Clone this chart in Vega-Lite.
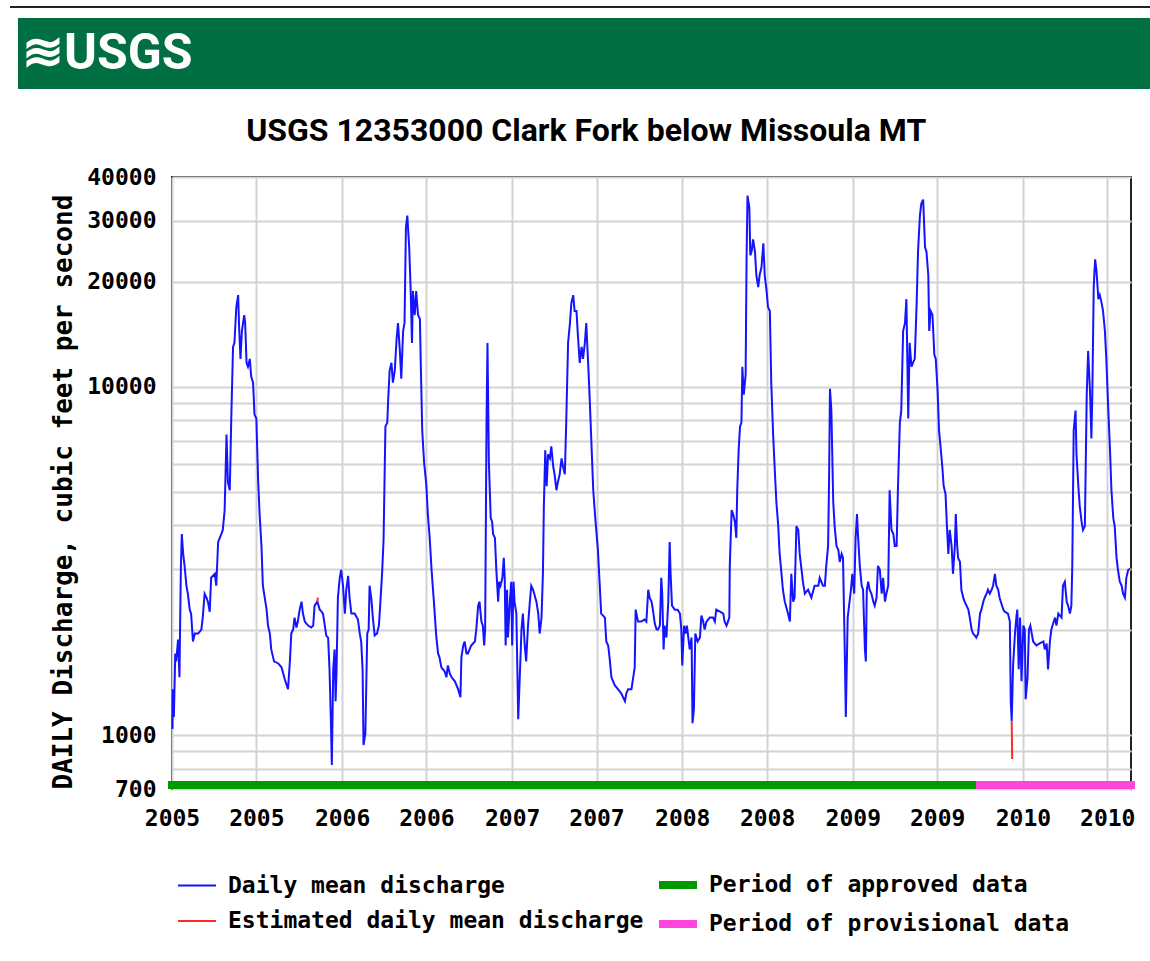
{
  "$schema": "https://vega.github.io/schema/vega-lite/v6.json",
  "background": "white",
  "padding": {"left": 9, "top": 6, "right": 0, "bottom": 0},
  "spacing": 25,
  "config": {"view": {"stroke": null}},
  "datasets": {
    "flow": [
      {"date": "2005-01-02", "discharge": 1040, "series": "Daily mean discharge"},
      {"date": "2005-01-03", "discharge": 1354, "series": "Daily mean discharge"},
      {"date": "2005-01-05", "discharge": 1126, "series": "Daily mean discharge"},
      {"date": "2005-01-08", "discharge": 1715, "series": "Daily mean discharge"},
      {"date": "2005-01-10", "discharge": 1627, "series": "Daily mean discharge"},
      {"date": "2005-01-14", "discharge": 1880, "series": "Daily mean discharge"},
      {"date": "2005-01-17", "discharge": 1465, "series": "Daily mean discharge"},
      {"date": "2005-01-20", "discharge": 2980, "series": "Daily mean discharge"},
      {"date": "2005-01-22", "discharge": 3778, "series": "Daily mean discharge"},
      {"date": "2005-01-25", "discharge": 3311, "series": "Daily mean discharge"},
      {"date": "2005-01-28", "discharge": 3060, "series": "Daily mean discharge"},
      {"date": "2005-02-01", "discharge": 2683, "series": "Daily mean discharge"},
      {"date": "2005-02-04", "discharge": 2545, "series": "Daily mean discharge"},
      {"date": "2005-02-08", "discharge": 2291, "series": "Daily mean discharge"},
      {"date": "2005-02-11", "discharge": 2232, "series": "Daily mean discharge"},
      {"date": "2005-02-15", "discharge": 1856, "series": "Daily mean discharge"},
      {"date": "2005-02-19", "discharge": 1956, "series": "Daily mean discharge"},
      {"date": "2005-02-26", "discharge": 1956, "series": "Daily mean discharge"},
      {"date": "2005-03-05", "discharge": 2009, "series": "Daily mean discharge"},
      {"date": "2005-03-08", "discharge": 2174, "series": "Daily mean discharge"},
      {"date": "2005-03-12", "discharge": 2545, "series": "Daily mean discharge"},
      {"date": "2005-03-16", "discharge": 2479, "series": "Daily mean discharge"},
      {"date": "2005-03-19", "discharge": 2415, "series": "Daily mean discharge"},
      {"date": "2005-03-23", "discharge": 2260, "series": "Daily mean discharge"},
      {"date": "2005-03-26", "discharge": 2828, "series": "Daily mean discharge"},
      {"date": "2005-04-03", "discharge": 2903, "series": "Daily mean discharge"},
      {"date": "2005-04-06", "discharge": 2683, "series": "Daily mean discharge"},
      {"date": "2005-04-10", "discharge": 3584, "series": "Daily mean discharge"},
      {"date": "2005-04-17", "discharge": 3778, "series": "Daily mean discharge"},
      {"date": "2005-04-20", "discharge": 3880, "series": "Daily mean discharge"},
      {"date": "2005-04-24", "discharge": 4425, "series": "Daily mean discharge"},
      {"date": "2005-04-28", "discharge": 7290, "series": "Daily mean discharge"},
      {"date": "2005-05-01", "discharge": 5320, "series": "Daily mean discharge"},
      {"date": "2005-05-05", "discharge": 5045, "series": "Daily mean discharge"},
      {"date": "2005-05-08", "discharge": 7890, "series": "Daily mean discharge"},
      {"date": "2005-05-12", "discharge": 13010, "series": "Daily mean discharge"},
      {"date": "2005-05-15", "discharge": 13360, "series": "Daily mean discharge"},
      {"date": "2005-05-19", "discharge": 16930, "series": "Daily mean discharge"},
      {"date": "2005-05-23", "discharge": 18320, "series": "Daily mean discharge"},
      {"date": "2005-05-25", "discharge": 14840, "series": "Daily mean discharge"},
      {"date": "2005-05-28", "discharge": 12020, "series": "Daily mean discharge"},
      {"date": "2005-05-31", "discharge": 14450, "series": "Daily mean discharge"},
      {"date": "2005-06-05", "discharge": 16060, "series": "Daily mean discharge"},
      {"date": "2005-06-07", "discharge": 15240, "series": "Daily mean discharge"},
      {"date": "2005-06-10", "discharge": 11710, "series": "Daily mean discharge"},
      {"date": "2005-06-13", "discharge": 11410, "series": "Daily mean discharge"},
      {"date": "2005-06-17", "discharge": 12020, "series": "Daily mean discharge"},
      {"date": "2005-06-20", "discharge": 10680, "series": "Daily mean discharge"},
      {"date": "2005-06-24", "discharge": 10270, "series": "Daily mean discharge"},
      {"date": "2005-06-27", "discharge": 8320, "series": "Daily mean discharge"},
      {"date": "2005-07-01", "discharge": 8100, "series": "Daily mean discharge"},
      {"date": "2005-07-05", "discharge": 5320, "series": "Daily mean discharge"},
      {"date": "2005-07-08", "discharge": 4310, "series": "Daily mean discharge"},
      {"date": "2005-07-12", "discharge": 3491, "series": "Daily mean discharge"},
      {"date": "2005-07-15", "discharge": 2683, "series": "Daily mean discharge"},
      {"date": "2005-07-23", "discharge": 2291, "series": "Daily mean discharge"},
      {"date": "2005-07-26", "discharge": 2062, "series": "Daily mean discharge"},
      {"date": "2005-07-30", "discharge": 1956, "series": "Daily mean discharge"},
      {"date": "2005-08-02", "discharge": 1761, "series": "Daily mean discharge"},
      {"date": "2005-08-08", "discharge": 1627, "series": "Daily mean discharge"},
      {"date": "2005-08-17", "discharge": 1605, "series": "Daily mean discharge"},
      {"date": "2005-08-24", "discharge": 1565, "series": "Daily mean discharge"},
      {"date": "2005-08-31", "discharge": 1446, "series": "Daily mean discharge"},
      {"date": "2005-09-07", "discharge": 1354, "series": "Daily mean discharge"},
      {"date": "2005-09-11", "discharge": 1627, "series": "Daily mean discharge"},
      {"date": "2005-09-14", "discharge": 1956, "series": "Daily mean discharge"},
      {"date": "2005-09-18", "discharge": 2009, "series": "Daily mean discharge"},
      {"date": "2005-09-21", "discharge": 2174, "series": "Daily mean discharge"},
      {"date": "2005-09-25", "discharge": 2035, "series": "Daily mean discharge"},
      {"date": "2005-09-28", "discharge": 2117, "series": "Daily mean discharge"},
      {"date": "2005-10-02", "discharge": 2291, "series": "Daily mean discharge"},
      {"date": "2005-10-06", "discharge": 2415, "series": "Daily mean discharge"},
      {"date": "2005-10-09", "discharge": 2232, "series": "Daily mean discharge"},
      {"date": "2005-10-13", "discharge": 2117, "series": "Daily mean discharge"},
      {"date": "2005-10-20", "discharge": 2062, "series": "Daily mean discharge"},
      {"date": "2005-10-27", "discharge": 2035, "series": "Daily mean discharge"},
      {"date": "2005-10-31", "discharge": 2062, "series": "Daily mean discharge"},
      {"date": "2005-11-03", "discharge": 2352, "series": "Daily mean discharge"},
      {"date": "2005-11-06", "discharge": 2383, "series": "Daily mean discharge"},
      {"date": "2005-11-09", "discharge": 2415, "series": "Daily mean discharge"},
      {"date": "2005-11-14", "discharge": 2291, "series": "Daily mean discharge"},
      {"date": "2005-11-18", "discharge": 2260, "series": "Daily mean discharge"},
      {"date": "2005-11-21", "discharge": 2232, "series": "Daily mean discharge"},
      {"date": "2005-11-25", "discharge": 2062, "series": "Daily mean discharge"},
      {"date": "2005-11-28", "discharge": 1930, "series": "Daily mean discharge"},
      {"date": "2005-12-02", "discharge": 1905, "series": "Daily mean discharge"},
      {"date": "2005-12-05", "discharge": 1544, "series": "Daily mean discharge"},
      {"date": "2005-12-08", "discharge": 1096, "series": "Daily mean discharge"},
      {"date": "2005-12-10", "discharge": 821, "series": "Daily mean discharge"},
      {"date": "2005-12-13", "discharge": 1544, "series": "Daily mean discharge"},
      {"date": "2005-12-16", "discharge": 1761, "series": "Daily mean discharge"},
      {"date": "2005-12-18", "discharge": 1251, "series": "Daily mean discharge"},
      {"date": "2005-12-20", "discharge": 1504, "series": "Daily mean discharge"},
      {"date": "2005-12-23", "discharge": 2479, "series": "Daily mean discharge"},
      {"date": "2005-12-27", "discharge": 2828, "series": "Daily mean discharge"},
      {"date": "2005-12-30", "discharge": 2980, "series": "Daily mean discharge"},
      {"date": "2006-01-03", "discharge": 2683, "series": "Daily mean discharge"},
      {"date": "2006-01-07", "discharge": 2232, "series": "Daily mean discharge"},
      {"date": "2006-01-10", "discharge": 2613, "series": "Daily mean discharge"},
      {"date": "2006-01-14", "discharge": 2865, "series": "Daily mean discharge"},
      {"date": "2006-01-17", "discharge": 2479, "series": "Daily mean discharge"},
      {"date": "2006-01-21", "discharge": 2232, "series": "Daily mean discharge"},
      {"date": "2006-01-28", "discharge": 2232, "series": "Daily mean discharge"},
      {"date": "2006-02-04", "discharge": 2145, "series": "Daily mean discharge"},
      {"date": "2006-02-08", "discharge": 1956, "series": "Daily mean discharge"},
      {"date": "2006-02-11", "discharge": 1856, "series": "Daily mean discharge"},
      {"date": "2006-02-14", "discharge": 1544, "series": "Daily mean discharge"},
      {"date": "2006-02-16", "discharge": 936, "series": "Daily mean discharge"},
      {"date": "2006-02-20", "discharge": 1013, "series": "Daily mean discharge"},
      {"date": "2006-02-24", "discharge": 1956, "series": "Daily mean discharge"},
      {"date": "2006-02-27", "discharge": 2009, "series": "Daily mean discharge"},
      {"date": "2006-03-01", "discharge": 2683, "series": "Daily mean discharge"},
      {"date": "2006-03-05", "discharge": 2447, "series": "Daily mean discharge"},
      {"date": "2006-03-08", "discharge": 2174, "series": "Daily mean discharge"},
      {"date": "2006-03-12", "discharge": 1930, "series": "Daily mean discharge"},
      {"date": "2006-03-17", "discharge": 1956, "series": "Daily mean discharge"},
      {"date": "2006-03-21", "discharge": 2062, "series": "Daily mean discharge"},
      {"date": "2006-03-24", "discharge": 2383, "series": "Daily mean discharge"},
      {"date": "2006-03-28", "discharge": 2940, "series": "Daily mean discharge"},
      {"date": "2006-03-31", "discharge": 3630, "series": "Daily mean discharge"},
      {"date": "2006-04-04", "discharge": 7690, "series": "Daily mean discharge"},
      {"date": "2006-04-08", "discharge": 7890, "series": "Daily mean discharge"},
      {"date": "2006-04-10", "discharge": 9240, "series": "Daily mean discharge"},
      {"date": "2006-04-13", "discharge": 11110, "series": "Daily mean discharge"},
      {"date": "2006-04-17", "discharge": 11710, "series": "Daily mean discharge"},
      {"date": "2006-04-20", "discharge": 10270, "series": "Daily mean discharge"},
      {"date": "2006-04-24", "discharge": 11110, "series": "Daily mean discharge"},
      {"date": "2006-04-28", "discharge": 13710, "series": "Daily mean discharge"},
      {"date": "2006-05-01", "discharge": 15240, "series": "Daily mean discharge"},
      {"date": "2006-05-05", "discharge": 12670, "series": "Daily mean discharge"},
      {"date": "2006-05-08", "discharge": 10540, "series": "Daily mean discharge"},
      {"date": "2006-05-12", "discharge": 14450, "series": "Daily mean discharge"},
      {"date": "2006-05-15", "discharge": 15240, "series": "Daily mean discharge"},
      {"date": "2006-05-18", "discharge": 28650, "series": "Daily mean discharge"},
      {"date": "2006-05-21", "discharge": 31000, "series": "Daily mean discharge"},
      {"date": "2006-05-25", "discharge": 25120, "series": "Daily mean discharge"},
      {"date": "2006-05-28", "discharge": 19310, "series": "Daily mean discharge"},
      {"date": "2006-05-31", "discharge": 13360, "series": "Daily mean discharge"},
      {"date": "2006-06-02", "discharge": 18810, "series": "Daily mean discharge"},
      {"date": "2006-06-06", "discharge": 16060, "series": "Daily mean discharge"},
      {"date": "2006-06-09", "discharge": 18810, "series": "Daily mean discharge"},
      {"date": "2006-06-13", "discharge": 16060, "series": "Daily mean discharge"},
      {"date": "2006-06-17", "discharge": 15640, "series": "Daily mean discharge"},
      {"date": "2006-06-19", "discharge": 11410, "series": "Daily mean discharge"},
      {"date": "2006-06-22", "discharge": 7490, "series": "Daily mean discharge"},
      {"date": "2006-06-26", "discharge": 6065, "series": "Daily mean discharge"},
      {"date": "2006-07-01", "discharge": 5180, "series": "Daily mean discharge"},
      {"date": "2006-07-04", "discharge": 4310, "series": "Daily mean discharge"},
      {"date": "2006-07-08", "discharge": 3680, "series": "Daily mean discharge"},
      {"date": "2006-07-12", "discharge": 2980, "series": "Daily mean discharge"},
      {"date": "2006-07-17", "discharge": 2415, "series": "Daily mean discharge"},
      {"date": "2006-07-22", "discharge": 1930, "series": "Daily mean discharge"},
      {"date": "2006-07-26", "discharge": 1715, "series": "Daily mean discharge"},
      {"date": "2006-07-29", "discharge": 1671, "series": "Daily mean discharge"},
      {"date": "2006-08-02", "discharge": 1565, "series": "Daily mean discharge"},
      {"date": "2006-08-09", "discharge": 1524, "series": "Daily mean discharge"},
      {"date": "2006-08-13", "discharge": 1465, "series": "Daily mean discharge"},
      {"date": "2006-08-16", "discharge": 1585, "series": "Daily mean discharge"},
      {"date": "2006-08-20", "discharge": 1504, "series": "Daily mean discharge"},
      {"date": "2006-08-24", "discharge": 1465, "series": "Daily mean discharge"},
      {"date": "2006-08-31", "discharge": 1427, "series": "Daily mean discharge"},
      {"date": "2006-09-07", "discharge": 1354, "series": "Daily mean discharge"},
      {"date": "2006-09-12", "discharge": 1284, "series": "Daily mean discharge"},
      {"date": "2006-09-14", "discharge": 1671, "series": "Daily mean discharge"},
      {"date": "2006-09-18", "discharge": 1808, "series": "Daily mean discharge"},
      {"date": "2006-09-21", "discharge": 1856, "series": "Daily mean discharge"},
      {"date": "2006-09-25", "discharge": 1715, "series": "Daily mean discharge"},
      {"date": "2006-09-28", "discharge": 1715, "series": "Daily mean discharge"},
      {"date": "2006-10-05", "discharge": 1808, "series": "Daily mean discharge"},
      {"date": "2006-10-13", "discharge": 1856, "series": "Daily mean discharge"},
      {"date": "2006-10-16", "discharge": 2009, "series": "Daily mean discharge"},
      {"date": "2006-10-20", "discharge": 2352, "series": "Daily mean discharge"},
      {"date": "2006-10-23", "discharge": 2415, "series": "Daily mean discharge"},
      {"date": "2006-10-27", "discharge": 2117, "series": "Daily mean discharge"},
      {"date": "2006-10-30", "discharge": 2062, "series": "Daily mean discharge"},
      {"date": "2006-11-02", "discharge": 1808, "series": "Daily mean discharge"},
      {"date": "2006-11-04", "discharge": 2009, "series": "Daily mean discharge"},
      {"date": "2006-11-07", "discharge": 8000, "series": "Daily mean discharge"},
      {"date": "2006-11-09", "discharge": 13360, "series": "Daily mean discharge"},
      {"date": "2006-11-12", "discharge": 6065, "series": "Daily mean discharge"},
      {"date": "2006-11-16", "discharge": 4195, "series": "Daily mean discharge"},
      {"date": "2006-11-19", "discharge": 4090, "series": "Daily mean discharge"},
      {"date": "2006-11-21", "discharge": 3778, "series": "Daily mean discharge"},
      {"date": "2006-11-25", "discharge": 3680, "series": "Daily mean discharge"},
      {"date": "2006-11-28", "discharge": 2980, "series": "Daily mean discharge"},
      {"date": "2006-12-02", "discharge": 2415, "series": "Daily mean discharge"},
      {"date": "2006-12-04", "discharge": 2754, "series": "Daily mean discharge"},
      {"date": "2006-12-07", "discharge": 2683, "series": "Daily mean discharge"},
      {"date": "2006-12-11", "discharge": 2828, "series": "Daily mean discharge"},
      {"date": "2006-12-14", "discharge": 3225, "series": "Daily mean discharge"},
      {"date": "2006-12-16", "discharge": 2828, "series": "Daily mean discharge"},
      {"date": "2006-12-18", "discharge": 1808, "series": "Daily mean discharge"},
      {"date": "2006-12-21", "discharge": 2613, "series": "Daily mean discharge"},
      {"date": "2006-12-23", "discharge": 1905, "series": "Daily mean discharge"},
      {"date": "2006-12-27", "discharge": 2415, "series": "Daily mean discharge"},
      {"date": "2006-12-30", "discharge": 2754, "series": "Daily mean discharge"},
      {"date": "2007-01-01", "discharge": 1808, "series": "Daily mean discharge"},
      {"date": "2007-01-04", "discharge": 2754, "series": "Daily mean discharge"},
      {"date": "2007-01-06", "discharge": 2415, "series": "Daily mean discharge"},
      {"date": "2007-01-10", "discharge": 2232, "series": "Daily mean discharge"},
      {"date": "2007-01-14", "discharge": 1111, "series": "Daily mean discharge"},
      {"date": "2007-01-17", "discharge": 1427, "series": "Daily mean discharge"},
      {"date": "2007-01-21", "discharge": 2009, "series": "Daily mean discharge"},
      {"date": "2007-01-24", "discharge": 2232, "series": "Daily mean discharge"},
      {"date": "2007-01-28", "discharge": 1808, "series": "Daily mean discharge"},
      {"date": "2007-01-31", "discharge": 1627, "series": "Daily mean discharge"},
      {"date": "2007-02-04", "discharge": 2062, "series": "Daily mean discharge"},
      {"date": "2007-02-08", "discharge": 2415, "series": "Daily mean discharge"},
      {"date": "2007-02-11", "discharge": 2683, "series": "Daily mean discharge"},
      {"date": "2007-02-15", "discharge": 2613, "series": "Daily mean discharge"},
      {"date": "2007-02-22", "discharge": 2415, "series": "Daily mean discharge"},
      {"date": "2007-02-26", "discharge": 2232, "series": "Daily mean discharge"},
      {"date": "2007-03-01", "discharge": 1956, "series": "Daily mean discharge"},
      {"date": "2007-03-05", "discharge": 2174, "series": "Daily mean discharge"},
      {"date": "2007-03-08", "discharge": 2903, "series": "Daily mean discharge"},
      {"date": "2007-03-10", "discharge": 4540, "series": "Daily mean discharge"},
      {"date": "2007-03-13", "discharge": 6565, "series": "Daily mean discharge"},
      {"date": "2007-03-16", "discharge": 5180, "series": "Daily mean discharge"},
      {"date": "2007-03-19", "discharge": 6395, "series": "Daily mean discharge"},
      {"date": "2007-03-23", "discharge": 6230, "series": "Daily mean discharge"},
      {"date": "2007-03-26", "discharge": 6740, "series": "Daily mean discharge"},
      {"date": "2007-03-30", "discharge": 5910, "series": "Daily mean discharge"},
      {"date": "2007-04-02", "discharge": 5605, "series": "Daily mean discharge"},
      {"date": "2007-04-06", "discharge": 5045, "series": "Daily mean discharge"},
      {"date": "2007-04-09", "discharge": 5320, "series": "Daily mean discharge"},
      {"date": "2007-04-13", "discharge": 5605, "series": "Daily mean discharge"},
      {"date": "2007-04-17", "discharge": 6230, "series": "Daily mean discharge"},
      {"date": "2007-04-20", "discharge": 5910, "series": "Daily mean discharge"},
      {"date": "2007-04-24", "discharge": 5605, "series": "Daily mean discharge"},
      {"date": "2007-04-27", "discharge": 7890, "series": "Daily mean discharge"},
      {"date": "2007-05-01", "discharge": 13360, "series": "Daily mean discharge"},
      {"date": "2007-05-05", "discharge": 15240, "series": "Daily mean discharge"},
      {"date": "2007-05-08", "discharge": 17380, "series": "Daily mean discharge"},
      {"date": "2007-05-12", "discharge": 18320, "series": "Daily mean discharge"},
      {"date": "2007-05-15", "discharge": 16490, "series": "Daily mean discharge"},
      {"date": "2007-05-19", "discharge": 16490, "series": "Daily mean discharge"},
      {"date": "2007-05-22", "discharge": 14080, "series": "Daily mean discharge"},
      {"date": "2007-05-26", "discharge": 11710, "series": "Daily mean discharge"},
      {"date": "2007-05-30", "discharge": 13010, "series": "Daily mean discharge"},
      {"date": "2007-06-02", "discharge": 12020, "series": "Daily mean discharge"},
      {"date": "2007-06-06", "discharge": 13360, "series": "Daily mean discharge"},
      {"date": "2007-06-09", "discharge": 15240, "series": "Daily mean discharge"},
      {"date": "2007-06-13", "discharge": 11710, "series": "Daily mean discharge"},
      {"date": "2007-06-16", "discharge": 9490, "series": "Daily mean discharge"},
      {"date": "2007-06-20", "discharge": 6920, "series": "Daily mean discharge"},
      {"date": "2007-06-24", "discharge": 5045, "series": "Daily mean discharge"},
      {"date": "2007-06-29", "discharge": 4090, "series": "Daily mean discharge"},
      {"date": "2007-07-04", "discharge": 3400, "series": "Daily mean discharge"},
      {"date": "2007-07-08", "discharge": 2683, "series": "Daily mean discharge"},
      {"date": "2007-07-11", "discharge": 2232, "series": "Daily mean discharge"},
      {"date": "2007-07-19", "discharge": 2174, "series": "Daily mean discharge"},
      {"date": "2007-07-22", "discharge": 1856, "series": "Daily mean discharge"},
      {"date": "2007-07-26", "discharge": 1808, "series": "Daily mean discharge"},
      {"date": "2007-07-29", "discharge": 1671, "series": "Daily mean discharge"},
      {"date": "2007-08-02", "discharge": 1465, "series": "Daily mean discharge"},
      {"date": "2007-08-09", "discharge": 1390, "series": "Daily mean discharge"},
      {"date": "2007-08-16", "discharge": 1354, "series": "Daily mean discharge"},
      {"date": "2007-08-23", "discharge": 1318, "series": "Daily mean discharge"},
      {"date": "2007-08-31", "discharge": 1251, "series": "Daily mean discharge"},
      {"date": "2007-09-03", "discharge": 1318, "series": "Daily mean discharge"},
      {"date": "2007-09-07", "discharge": 1354, "series": "Daily mean discharge"},
      {"date": "2007-09-14", "discharge": 1354, "series": "Daily mean discharge"},
      {"date": "2007-09-21", "discharge": 1565, "series": "Daily mean discharge"},
      {"date": "2007-09-23", "discharge": 2291, "series": "Daily mean discharge"},
      {"date": "2007-09-28", "discharge": 2117, "series": "Daily mean discharge"},
      {"date": "2007-10-05", "discharge": 2117, "series": "Daily mean discharge"},
      {"date": "2007-10-12", "discharge": 2145, "series": "Daily mean discharge"},
      {"date": "2007-10-16", "discharge": 2117, "series": "Daily mean discharge"},
      {"date": "2007-10-20", "discharge": 2613, "series": "Daily mean discharge"},
      {"date": "2007-10-23", "discharge": 2479, "series": "Daily mean discharge"},
      {"date": "2007-10-27", "discharge": 2415, "series": "Daily mean discharge"},
      {"date": "2007-10-30", "discharge": 2291, "series": "Daily mean discharge"},
      {"date": "2007-11-03", "discharge": 2090, "series": "Daily mean discharge"},
      {"date": "2007-11-07", "discharge": 2009, "series": "Daily mean discharge"},
      {"date": "2007-11-10", "discharge": 2009, "series": "Daily mean discharge"},
      {"date": "2007-11-14", "discharge": 2062, "series": "Daily mean discharge"},
      {"date": "2007-11-17", "discharge": 2828, "series": "Daily mean discharge"},
      {"date": "2007-11-19", "discharge": 2545, "series": "Daily mean discharge"},
      {"date": "2007-11-22", "discharge": 1761, "series": "Daily mean discharge"},
      {"date": "2007-11-24", "discharge": 2062, "series": "Daily mean discharge"},
      {"date": "2007-11-28", "discharge": 1905, "series": "Daily mean discharge"},
      {"date": "2007-12-02", "discharge": 2415, "series": "Daily mean discharge"},
      {"date": "2007-12-05", "discharge": 3584, "series": "Daily mean discharge"},
      {"date": "2007-12-07", "discharge": 2903, "series": "Daily mean discharge"},
      {"date": "2007-12-10", "discharge": 2352, "series": "Daily mean discharge"},
      {"date": "2007-12-16", "discharge": 2291, "series": "Daily mean discharge"},
      {"date": "2007-12-22", "discharge": 2291, "series": "Daily mean discharge"},
      {"date": "2007-12-27", "discharge": 2232, "series": "Daily mean discharge"},
      {"date": "2007-12-30", "discharge": 2009, "series": "Daily mean discharge"},
      {"date": "2008-01-01", "discharge": 1585, "series": "Daily mean discharge"},
      {"date": "2008-01-05", "discharge": 2062, "series": "Daily mean discharge"},
      {"date": "2008-01-08", "discharge": 1956, "series": "Daily mean discharge"},
      {"date": "2008-01-11", "discharge": 2062, "series": "Daily mean discharge"},
      {"date": "2008-01-14", "discharge": 1905, "series": "Daily mean discharge"},
      {"date": "2008-01-17", "discharge": 1761, "series": "Daily mean discharge"},
      {"date": "2008-01-21", "discharge": 1905, "series": "Daily mean discharge"},
      {"date": "2008-01-23", "discharge": 1082, "series": "Daily mean discharge"},
      {"date": "2008-01-26", "discharge": 1187, "series": "Daily mean discharge"},
      {"date": "2008-01-29", "discharge": 1956, "series": "Daily mean discharge"},
      {"date": "2008-02-03", "discharge": 1856, "series": "Daily mean discharge"},
      {"date": "2008-02-08", "discharge": 1905, "series": "Daily mean discharge"},
      {"date": "2008-02-11", "discharge": 2203, "series": "Daily mean discharge"},
      {"date": "2008-02-15", "discharge": 2117, "series": "Daily mean discharge"},
      {"date": "2008-02-18", "discharge": 2009, "series": "Daily mean discharge"},
      {"date": "2008-02-22", "discharge": 2117, "series": "Daily mean discharge"},
      {"date": "2008-02-29", "discharge": 2174, "series": "Daily mean discharge"},
      {"date": "2008-03-07", "discharge": 2174, "series": "Daily mean discharge"},
      {"date": "2008-03-11", "discharge": 2117, "series": "Daily mean discharge"},
      {"date": "2008-03-14", "discharge": 2291, "series": "Daily mean discharge"},
      {"date": "2008-03-22", "discharge": 2260, "series": "Daily mean discharge"},
      {"date": "2008-03-29", "discharge": 2232, "series": "Daily mean discharge"},
      {"date": "2008-04-01", "discharge": 2117, "series": "Daily mean discharge"},
      {"date": "2008-04-05", "discharge": 2062, "series": "Daily mean discharge"},
      {"date": "2008-04-08", "discharge": 2117, "series": "Daily mean discharge"},
      {"date": "2008-04-11", "discharge": 2174, "series": "Daily mean discharge"},
      {"date": "2008-04-12", "discharge": 3060, "series": "Daily mean discharge"},
      {"date": "2008-04-16", "discharge": 4425, "series": "Daily mean discharge"},
      {"date": "2008-04-19", "discharge": 4310, "series": "Daily mean discharge"},
      {"date": "2008-04-23", "discharge": 4090, "series": "Daily mean discharge"},
      {"date": "2008-04-26", "discharge": 3680, "series": "Daily mean discharge"},
      {"date": "2008-04-28", "discharge": 5045, "series": "Daily mean discharge"},
      {"date": "2008-05-01", "discharge": 6565, "series": "Daily mean discharge"},
      {"date": "2008-05-04", "discharge": 7690, "series": "Daily mean discharge"},
      {"date": "2008-05-07", "discharge": 7890, "series": "Daily mean discharge"},
      {"date": "2008-05-09", "discharge": 11410, "series": "Daily mean discharge"},
      {"date": "2008-05-12", "discharge": 9490, "series": "Daily mean discharge"},
      {"date": "2008-05-16", "discharge": 10820, "series": "Daily mean discharge"},
      {"date": "2008-05-18", "discharge": 23210, "series": "Daily mean discharge"},
      {"date": "2008-05-20", "discharge": 35380, "series": "Daily mean discharge"},
      {"date": "2008-05-24", "discharge": 32680, "series": "Daily mean discharge"},
      {"date": "2008-05-26", "discharge": 23830, "series": "Daily mean discharge"},
      {"date": "2008-05-29", "discharge": 24470, "series": "Daily mean discharge"},
      {"date": "2008-06-01", "discharge": 26480, "series": "Daily mean discharge"},
      {"date": "2008-06-05", "discharge": 24470, "series": "Daily mean discharge"},
      {"date": "2008-06-08", "discharge": 20890, "series": "Daily mean discharge"},
      {"date": "2008-06-12", "discharge": 19310, "series": "Daily mean discharge"},
      {"date": "2008-06-15", "discharge": 20890, "series": "Daily mean discharge"},
      {"date": "2008-06-19", "discharge": 22020, "series": "Daily mean discharge"},
      {"date": "2008-06-23", "discharge": 25790, "series": "Daily mean discharge"},
      {"date": "2008-06-26", "discharge": 20890, "series": "Daily mean discharge"},
      {"date": "2008-06-30", "discharge": 18810, "series": "Daily mean discharge"},
      {"date": "2008-07-03", "discharge": 16930, "series": "Daily mean discharge"},
      {"date": "2008-07-07", "discharge": 16490, "series": "Daily mean discharge"},
      {"date": "2008-07-10", "discharge": 10270, "series": "Daily mean discharge"},
      {"date": "2008-07-14", "discharge": 7290, "series": "Daily mean discharge"},
      {"date": "2008-07-18", "discharge": 5605, "series": "Daily mean discharge"},
      {"date": "2008-07-21", "discharge": 4665, "series": "Daily mean discharge"},
      {"date": "2008-07-25", "discharge": 3980, "series": "Daily mean discharge"},
      {"date": "2008-07-28", "discharge": 3311, "series": "Daily mean discharge"},
      {"date": "2008-08-01", "discharge": 2903, "series": "Daily mean discharge"},
      {"date": "2008-08-04", "discharge": 2613, "series": "Daily mean discharge"},
      {"date": "2008-08-08", "discharge": 2415, "series": "Daily mean discharge"},
      {"date": "2008-08-15", "discharge": 2232, "series": "Daily mean discharge"},
      {"date": "2008-08-19", "discharge": 2117, "series": "Daily mean discharge"},
      {"date": "2008-08-22", "discharge": 2903, "series": "Daily mean discharge"},
      {"date": "2008-08-26", "discharge": 2415, "series": "Daily mean discharge"},
      {"date": "2008-08-29", "discharge": 2479, "series": "Daily mean discharge"},
      {"date": "2008-09-02", "discharge": 3980, "series": "Daily mean discharge"},
      {"date": "2008-09-06", "discharge": 3880, "series": "Daily mean discharge"},
      {"date": "2008-09-09", "discharge": 3311, "series": "Daily mean discharge"},
      {"date": "2008-09-13", "discharge": 2980, "series": "Daily mean discharge"},
      {"date": "2008-09-16", "discharge": 2754, "series": "Daily mean discharge"},
      {"date": "2008-09-20", "discharge": 2545, "series": "Daily mean discharge"},
      {"date": "2008-09-27", "discharge": 2613, "series": "Daily mean discharge"},
      {"date": "2008-10-04", "discharge": 2479, "series": "Daily mean discharge"},
      {"date": "2008-10-11", "discharge": 2683, "series": "Daily mean discharge"},
      {"date": "2008-10-19", "discharge": 2683, "series": "Daily mean discharge"},
      {"date": "2008-10-22", "discharge": 2828, "series": "Daily mean discharge"},
      {"date": "2008-10-29", "discharge": 2683, "series": "Daily mean discharge"},
      {"date": "2008-11-02", "discharge": 2683, "series": "Daily mean discharge"},
      {"date": "2008-11-05", "discharge": 3060, "series": "Daily mean discharge"},
      {"date": "2008-11-09", "discharge": 3491, "series": "Daily mean discharge"},
      {"date": "2008-11-11", "discharge": 5320, "series": "Daily mean discharge"},
      {"date": "2008-11-13", "discharge": 9870, "series": "Daily mean discharge"},
      {"date": "2008-11-16", "discharge": 8540, "series": "Daily mean discharge"},
      {"date": "2008-11-20", "discharge": 4665, "series": "Daily mean discharge"},
      {"date": "2008-11-23", "discharge": 3980, "series": "Daily mean discharge"},
      {"date": "2008-11-27", "discharge": 3491, "series": "Daily mean discharge"},
      {"date": "2008-12-01", "discharge": 3400, "series": "Daily mean discharge"},
      {"date": "2008-12-04", "discharge": 3141, "series": "Daily mean discharge"},
      {"date": "2008-12-08", "discharge": 3311, "series": "Daily mean discharge"},
      {"date": "2008-12-11", "discharge": 3225, "series": "Daily mean discharge"},
      {"date": "2008-12-15", "discharge": 1671, "series": "Daily mean discharge"},
      {"date": "2008-12-17", "discharge": 1126, "series": "Daily mean discharge"},
      {"date": "2008-12-21", "discharge": 2174, "series": "Daily mean discharge"},
      {"date": "2008-12-24", "discharge": 2352, "series": "Daily mean discharge"},
      {"date": "2008-12-28", "discharge": 2613, "series": "Daily mean discharge"},
      {"date": "2008-12-31", "discharge": 2903, "series": "Daily mean discharge"},
      {"date": "2009-01-04", "discharge": 2545, "series": "Daily mean discharge"},
      {"date": "2009-01-07", "discharge": 3680, "series": "Daily mean discharge"},
      {"date": "2009-01-10", "discharge": 4310, "series": "Daily mean discharge"},
      {"date": "2009-01-12", "discharge": 3778, "series": "Daily mean discharge"},
      {"date": "2009-01-16", "discharge": 3060, "series": "Daily mean discharge"},
      {"date": "2009-01-20", "discharge": 2683, "series": "Daily mean discharge"},
      {"date": "2009-01-23", "discharge": 2613, "series": "Daily mean discharge"},
      {"date": "2009-01-27", "discharge": 1761, "series": "Daily mean discharge"},
      {"date": "2009-01-29", "discharge": 1627, "series": "Daily mean discharge"},
      {"date": "2009-01-31", "discharge": 2613, "series": "Daily mean discharge"},
      {"date": "2009-02-03", "discharge": 2754, "series": "Daily mean discharge"},
      {"date": "2009-02-06", "discharge": 2613, "series": "Daily mean discharge"},
      {"date": "2009-02-10", "discharge": 2545, "series": "Daily mean discharge"},
      {"date": "2009-02-14", "discharge": 2415, "series": "Daily mean discharge"},
      {"date": "2009-02-17", "discharge": 2352, "series": "Daily mean discharge"},
      {"date": "2009-02-21", "discharge": 2479, "series": "Daily mean discharge"},
      {"date": "2009-02-24", "discharge": 3060, "series": "Daily mean discharge"},
      {"date": "2009-02-28", "discharge": 2980, "series": "Daily mean discharge"},
      {"date": "2009-03-04", "discharge": 2545, "series": "Daily mean discharge"},
      {"date": "2009-03-07", "discharge": 2828, "series": "Daily mean discharge"},
      {"date": "2009-03-11", "discharge": 2415, "series": "Daily mean discharge"},
      {"date": "2009-03-14", "discharge": 2545, "series": "Daily mean discharge"},
      {"date": "2009-03-18", "discharge": 2683, "series": "Daily mean discharge"},
      {"date": "2009-03-21", "discharge": 5045, "series": "Daily mean discharge"},
      {"date": "2009-03-25", "discharge": 3880, "series": "Daily mean discharge"},
      {"date": "2009-03-29", "discharge": 3778, "series": "Daily mean discharge"},
      {"date": "2009-04-01", "discharge": 3491, "series": "Daily mean discharge"},
      {"date": "2009-04-05", "discharge": 3491, "series": "Daily mean discharge"},
      {"date": "2009-04-08", "discharge": 5180, "series": "Daily mean discharge"},
      {"date": "2009-04-12", "discharge": 7890, "series": "Daily mean discharge"},
      {"date": "2009-04-15", "discharge": 8540, "series": "Daily mean discharge"},
      {"date": "2009-04-19", "discharge": 14450, "series": "Daily mean discharge"},
      {"date": "2009-04-23", "discharge": 15240, "series": "Daily mean discharge"},
      {"date": "2009-04-26", "discharge": 17840, "series": "Daily mean discharge"},
      {"date": "2009-04-30", "discharge": 8100, "series": "Daily mean discharge"},
      {"date": "2009-05-03", "discharge": 13360, "series": "Daily mean discharge"},
      {"date": "2009-05-07", "discharge": 11410, "series": "Daily mean discharge"},
      {"date": "2009-05-10", "discharge": 11710, "series": "Daily mean discharge"},
      {"date": "2009-05-14", "discharge": 12020, "series": "Daily mean discharge"},
      {"date": "2009-05-18", "discharge": 17380, "series": "Daily mean discharge"},
      {"date": "2009-05-21", "discharge": 24470, "series": "Daily mean discharge"},
      {"date": "2009-05-25", "discharge": 31000, "series": "Daily mean discharge"},
      {"date": "2009-05-28", "discharge": 33550, "series": "Daily mean discharge"},
      {"date": "2009-06-01", "discharge": 34440, "series": "Daily mean discharge"},
      {"date": "2009-06-05", "discharge": 25120, "series": "Daily mean discharge"},
      {"date": "2009-06-08", "discharge": 24470, "series": "Daily mean discharge"},
      {"date": "2009-06-12", "discharge": 20890, "series": "Daily mean discharge"},
      {"date": "2009-06-14", "discharge": 14450, "series": "Daily mean discharge"},
      {"date": "2009-06-17", "discharge": 16490, "series": "Daily mean discharge"},
      {"date": "2009-06-21", "discharge": 16060, "series": "Daily mean discharge"},
      {"date": "2009-06-25", "discharge": 12340, "series": "Daily mean discharge"},
      {"date": "2009-06-28", "discharge": 12020, "series": "Daily mean discharge"},
      {"date": "2009-07-02", "discharge": 9740, "series": "Daily mean discharge"},
      {"date": "2009-07-05", "discharge": 7490, "series": "Daily mean discharge"},
      {"date": "2009-07-09", "discharge": 6565, "series": "Daily mean discharge"},
      {"date": "2009-07-12", "discharge": 5910, "series": "Daily mean discharge"},
      {"date": "2009-07-15", "discharge": 5180, "series": "Daily mean discharge"},
      {"date": "2009-07-19", "discharge": 4915, "series": "Daily mean discharge"},
      {"date": "2009-07-22", "discharge": 3980, "series": "Daily mean discharge"},
      {"date": "2009-07-25", "discharge": 3311, "series": "Daily mean discharge"},
      {"date": "2009-07-28", "discharge": 3880, "series": "Daily mean discharge"},
      {"date": "2009-08-01", "discharge": 3491, "series": "Daily mean discharge"},
      {"date": "2009-08-04", "discharge": 2903, "series": "Daily mean discharge"},
      {"date": "2009-08-08", "discharge": 3491, "series": "Daily mean discharge"},
      {"date": "2009-08-10", "discharge": 4310, "series": "Daily mean discharge"},
      {"date": "2009-08-13", "discharge": 3491, "series": "Daily mean discharge"},
      {"date": "2009-08-15", "discharge": 3225, "series": "Daily mean discharge"},
      {"date": "2009-08-19", "discharge": 3141, "series": "Daily mean discharge"},
      {"date": "2009-08-22", "discharge": 2613, "series": "Daily mean discharge"},
      {"date": "2009-08-26", "discharge": 2479, "series": "Daily mean discharge"},
      {"date": "2009-08-29", "discharge": 2415, "series": "Daily mean discharge"},
      {"date": "2009-09-02", "discharge": 2352, "series": "Daily mean discharge"},
      {"date": "2009-09-06", "discharge": 2291, "series": "Daily mean discharge"},
      {"date": "2009-09-09", "discharge": 2174, "series": "Daily mean discharge"},
      {"date": "2009-09-13", "discharge": 2009, "series": "Daily mean discharge"},
      {"date": "2009-09-16", "discharge": 1956, "series": "Daily mean discharge"},
      {"date": "2009-09-20", "discharge": 1930, "series": "Daily mean discharge"},
      {"date": "2009-09-23", "discharge": 1905, "series": "Daily mean discharge"},
      {"date": "2009-09-27", "discharge": 1956, "series": "Daily mean discharge"},
      {"date": "2009-10-01", "discharge": 2232, "series": "Daily mean discharge"},
      {"date": "2009-10-04", "discharge": 2291, "series": "Daily mean discharge"},
      {"date": "2009-10-08", "discharge": 2415, "series": "Daily mean discharge"},
      {"date": "2009-10-11", "discharge": 2479, "series": "Daily mean discharge"},
      {"date": "2009-10-15", "discharge": 2545, "series": "Daily mean discharge"},
      {"date": "2009-10-18", "discharge": 2613, "series": "Daily mean discharge"},
      {"date": "2009-10-22", "discharge": 2545, "series": "Daily mean discharge"},
      {"date": "2009-10-26", "discharge": 2613, "series": "Daily mean discharge"},
      {"date": "2009-10-29", "discharge": 2683, "series": "Daily mean discharge"},
      {"date": "2009-11-02", "discharge": 2903, "series": "Daily mean discharge"},
      {"date": "2009-11-05", "discharge": 2683, "series": "Daily mean discharge"},
      {"date": "2009-11-09", "discharge": 2613, "series": "Daily mean discharge"},
      {"date": "2009-11-12", "discharge": 2479, "series": "Daily mean discharge"},
      {"date": "2009-11-16", "discharge": 2383, "series": "Daily mean discharge"},
      {"date": "2009-11-20", "discharge": 2291, "series": "Daily mean discharge"},
      {"date": "2009-11-23", "discharge": 2260, "series": "Daily mean discharge"},
      {"date": "2009-11-30", "discharge": 2232, "series": "Daily mean discharge"},
      {"date": "2009-12-04", "discharge": 2117, "series": "Daily mean discharge"},
      {"date": "2009-12-06", "discharge": 1251, "series": "Daily mean discharge"},
      {"date": "2009-12-08", "discharge": 1096, "series": "Daily mean discharge"},
      {"date": "2009-12-11", "discharge": 1585, "series": "Daily mean discharge"},
      {"date": "2009-12-15", "discharge": 1956, "series": "Daily mean discharge"},
      {"date": "2009-12-18", "discharge": 2174, "series": "Daily mean discharge"},
      {"date": "2009-12-20", "discharge": 2291, "series": "Daily mean discharge"},
      {"date": "2009-12-23", "discharge": 1544, "series": "Daily mean discharge"},
      {"date": "2009-12-26", "discharge": 2174, "series": "Daily mean discharge"},
      {"date": "2009-12-29", "discharge": 1427, "series": "Daily mean discharge"},
      {"date": "2010-01-02", "discharge": 2062, "series": "Daily mean discharge"},
      {"date": "2010-01-05", "discharge": 2009, "series": "Daily mean discharge"},
      {"date": "2010-01-07", "discharge": 1268, "series": "Daily mean discharge"},
      {"date": "2010-01-11", "discharge": 1465, "series": "Daily mean discharge"},
      {"date": "2010-01-14", "discharge": 2009, "series": "Daily mean discharge"},
      {"date": "2010-01-17", "discharge": 2062, "series": "Daily mean discharge"},
      {"date": "2010-01-23", "discharge": 1856, "series": "Daily mean discharge"},
      {"date": "2010-01-30", "discharge": 1808, "series": "Daily mean discharge"},
      {"date": "2010-02-06", "discharge": 1832, "series": "Daily mean discharge"},
      {"date": "2010-02-14", "discharge": 1856, "series": "Daily mean discharge"},
      {"date": "2010-02-17", "discharge": 1761, "series": "Daily mean discharge"},
      {"date": "2010-02-21", "discharge": 1832, "series": "Daily mean discharge"},
      {"date": "2010-02-24", "discharge": 1544, "series": "Daily mean discharge"},
      {"date": "2010-02-28", "discharge": 1856, "series": "Daily mean discharge"},
      {"date": "2010-03-03", "discharge": 2009, "series": "Daily mean discharge"},
      {"date": "2010-03-07", "discharge": 2090, "series": "Daily mean discharge"},
      {"date": "2010-03-11", "discharge": 2174, "series": "Daily mean discharge"},
      {"date": "2010-03-14", "discharge": 2062, "series": "Daily mean discharge"},
      {"date": "2010-03-18", "discharge": 2232, "series": "Daily mean discharge"},
      {"date": "2010-03-25", "discharge": 2174, "series": "Daily mean discharge"},
      {"date": "2010-03-28", "discharge": 2683, "series": "Daily mean discharge"},
      {"date": "2010-04-01", "discharge": 2754, "series": "Daily mean discharge"},
      {"date": "2010-04-05", "discharge": 2415, "series": "Daily mean discharge"},
      {"date": "2010-04-08", "discharge": 2352, "series": "Daily mean discharge"},
      {"date": "2010-04-12", "discharge": 2232, "series": "Daily mean discharge"},
      {"date": "2010-04-15", "discharge": 2352, "series": "Daily mean discharge"},
      {"date": "2010-04-17", "discharge": 3060, "series": "Daily mean discharge"},
      {"date": "2010-04-20", "discharge": 7490, "series": "Daily mean discharge"},
      {"date": "2010-04-24", "discharge": 8540, "series": "Daily mean discharge"},
      {"date": "2010-04-26", "discharge": 6395, "series": "Daily mean discharge"},
      {"date": "2010-04-30", "discharge": 5180, "series": "Daily mean discharge"},
      {"date": "2010-05-03", "discharge": 4540, "series": "Daily mean discharge"},
      {"date": "2010-05-07", "discharge": 4090, "series": "Daily mean discharge"},
      {"date": "2010-05-10", "discharge": 3880, "series": "Daily mean discharge"},
      {"date": "2010-05-14", "discharge": 3980, "series": "Daily mean discharge"},
      {"date": "2010-05-18", "discharge": 9490, "series": "Daily mean discharge"},
      {"date": "2010-05-21", "discharge": 12670, "series": "Daily mean discharge"},
      {"date": "2010-05-25", "discharge": 9740, "series": "Daily mean discharge"},
      {"date": "2010-05-28", "discharge": 7100, "series": "Daily mean discharge"},
      {"date": "2010-05-30", "discharge": 9490, "series": "Daily mean discharge"},
      {"date": "2010-06-02", "discharge": 19310, "series": "Daily mean discharge"},
      {"date": "2010-06-05", "discharge": 23210, "series": "Daily mean discharge"},
      {"date": "2010-06-08", "discharge": 21450, "series": "Daily mean discharge"},
      {"date": "2010-06-12", "discharge": 17840, "series": "Daily mean discharge"},
      {"date": "2010-06-15", "discharge": 18320, "series": "Daily mean discharge"},
      {"date": "2010-06-19", "discharge": 17380, "series": "Daily mean discharge"},
      {"date": "2010-06-22", "discharge": 16490, "series": "Daily mean discharge"},
      {"date": "2010-06-26", "discharge": 14450, "series": "Daily mean discharge"},
      {"date": "2010-06-29", "discharge": 12020, "series": "Daily mean discharge"},
      {"date": "2010-07-03", "discharge": 8770, "series": "Daily mean discharge"},
      {"date": "2010-07-07", "discharge": 6565, "series": "Daily mean discharge"},
      {"date": "2010-07-10", "discharge": 5045, "series": "Daily mean discharge"},
      {"date": "2010-07-14", "discharge": 4195, "series": "Daily mean discharge"},
      {"date": "2010-07-17", "discharge": 3980, "series": "Daily mean discharge"},
      {"date": "2010-07-21", "discharge": 3225, "series": "Daily mean discharge"},
      {"date": "2010-07-24", "discharge": 2980, "series": "Daily mean discharge"},
      {"date": "2010-07-28", "discharge": 2754, "series": "Daily mean discharge"},
      {"date": "2010-08-01", "discharge": 2683, "series": "Daily mean discharge"},
      {"date": "2010-08-04", "discharge": 2545, "series": "Daily mean discharge"},
      {"date": "2010-08-08", "discharge": 2479, "series": "Daily mean discharge"},
      {"date": "2010-08-11", "discharge": 2828, "series": "Daily mean discharge"},
      {"date": "2010-08-15", "discharge": 2980, "series": "Daily mean discharge"},
      {"date": "2010-08-19", "discharge": 3000, "series": "Daily mean discharge"}
    ],
    "estimated": [
      {"date": "2005-11-09", "discharge": 2415, "series": "Estimated daily mean discharge", "seg": "a"},
      {"date": "2005-11-10", "discharge": 2480, "series": "Estimated daily mean discharge", "seg": "a"},
      {"date": "2009-12-08", "discharge": 1096, "series": "Estimated daily mean discharge", "seg": "b"},
      {"date": "2009-12-09", "discharge": 854, "series": "Estimated daily mean discharge", "seg": "b"}
    ],
    "periods": [
      {"date": "2005-01-01", "end": "2009-10-01", "series": "Period of approved data"},
      {"date": "2009-10-01", "end": "2010-08-21", "series": "Period of provisional data"}
    ],
    "logo": [
      {"name": "USGS"}
    ]
  },
  "vconcat": [
    {
      "width": 978,
      "height": 71,
      "view": {"stroke": null},
      "data": {"name": "logo"},
      "layer": [
        {
          "mark": {"type": "rule", "color": "#222222", "strokeWidth": 2},
          "encoding": {
            "x": {"value": -162},
            "x2": {"value": 978},
            "y": {"value": -11}
          }
        },
        {
          "mark": {"type": "rect", "color": "#006F41"},
          "encoding": {
            "x": {"value": -154},
            "x2": {"value": 978},
            "y": {"value": 0},
            "y2": {"value": 71}
          }
        },
        {
          "mark": {
            "type": "text",
            "align": "left",
            "baseline": "middle",
            "color": "white",
            "font": "Roboto",
            "fontSize": 50,
            "fontWeight": "bold"
          },
          "encoding": {
            "x": {"value": -150},
            "y": {"value": 36},
            "text": {"value": "≋USGS"}
          }
        }
      ]
    },
    {
      "width": 959,
      "height": 612,
      "view": {"stroke": "#222222", "strokeWidth": 2},
      "title": {
        "text": "USGS 12353000 Clark Fork below Missoula MT",
        "anchor": "middle",
        "frame": "bounds",
        "dx": 9,
        "offset": 18,
        "color": "black",
        "font": "Roboto",
        "fontSize": 32,
        "fontWeight": "bold"
      },
      "encoding": {
        "x": {
          "field": "date",
          "type": "temporal",
          "scale": {
            "type": "utc",
            "domain": [
              {"year": 2005, "month": 1, "date": 1, "utc": true},
              {"year": 2010, "month": 8, "date": 21, "utc": true}
            ]
          },
          "axis": {
            "title": null,
            "values": [
              {"year": 2005, "month": 1, "date": 1, "utc": true},
              {"year": 2005, "month": 7, "date": 1, "utc": true},
              {"year": 2006, "month": 1, "date": 1, "utc": true},
              {"year": 2006, "month": 7, "date": 1, "utc": true},
              {"year": 2007, "month": 1, "date": 1, "utc": true},
              {"year": 2007, "month": 7, "date": 1, "utc": true},
              {"year": 2008, "month": 1, "date": 1, "utc": true},
              {"year": 2008, "month": 7, "date": 1, "utc": true},
              {"year": 2009, "month": 1, "date": 1, "utc": true},
              {"year": 2009, "month": 7, "date": 1, "utc": true},
              {"year": 2010, "month": 1, "date": 1, "utc": true},
              {"year": 2010, "month": 7, "date": 1, "utc": true}
            ],
            "format": "%Y",
            "ticks": false,
            "domain": false,
            "grid": true,
            "gridColor": "#d3d3d3",
            "gridWidth": 2,
            "labelFlush": false,
            "labelOverlap": false,
            "labelFont": "DejaVu Sans Mono",
            "labelFontSize": 23,
            "labelFontWeight": "bold",
            "labelColor": "black",
            "labelPadding": 18
          }
        },
        "color": {
          "field": "series",
          "type": "nominal",
          "scale": {
            "domain": ["Daily mean discharge", "Estimated daily mean discharge", "Period of approved data", "Period of provisional data"],
            "range": ["#1414ff", "#ff2a2a", "#009a00", "#ff44dd"]
          },
          "legend": {
            "title": null,
            "orient": "none",
            "legendX": 2,
            "legendY": 844,
            "columns": 2,
            "values": ["Daily mean discharge", "Estimated daily mean discharge", "Period of approved data", "Period of provisional data"],
            "symbolType": "stroke",
            "symbolSize": 1444,
            "labelFont": "DejaVu Sans Mono",
            "labelFontSize": 23,
            "labelFontWeight": "bold",
            "labelColor": "black",
            "labelOffset": 8,
            "labelLimit": 1000,
            "columnPadding": -1,
            "rowPadding": 0
          }
        },
        "strokeWidth": {
          "field": "series",
          "type": "nominal",
          "scale": {
            "type": "ordinal",
            "domain": ["Daily mean discharge", "Estimated daily mean discharge", "Period of approved data", "Period of provisional data"],
            "range": [2, 2, 8, 8]
          },
          "legend": {
            "title": null,
            "orient": "none",
            "legendX": 2,
            "legendY": 844,
            "columns": 2,
            "values": ["Daily mean discharge", "Estimated daily mean discharge", "Period of approved data", "Period of provisional data"],
            "symbolType": "stroke",
            "symbolSize": 1444,
            "labelFont": "DejaVu Sans Mono",
            "labelFontSize": 23,
            "labelFontWeight": "bold",
            "labelColor": "black",
            "labelOffset": 8,
            "labelLimit": 1000,
            "columnPadding": -1,
            "rowPadding": 0
          }
        }
      },
      "layer": [
        {
          "data": {"name": "periods", "format": {"parse": {"end": "date"}}},
          "mark": {"type": "rule", "strokeCap": "square"},
          "encoding": {
            "x2": {"field": "end"},
            "y": {"datum": 719}
          }
        },
        {
          "data": {"name": "flow"},
          "mark": {"type": "line"},
          "encoding": {
            "y": {
              "field": "discharge",
              "type": "quantitative",
              "scale": {"type": "log", "domain": [700, 40000], "nice": false},
              "axis": {
                "title": [" ", "DAILY Discharge, cubic feet per second"],
                "values": [700, 800, 900, 1000, 2000, 3000, 4000, 5000, 6000, 7000, 8000, 9000, 10000, 20000, 30000, 40000],
                "format": "d",
                "labelExpr": "indexof([700, 1000, 10000, 20000, 30000, 40000], datum.value) >= 0 ? datum.label : ''",
                "ticks": false,
                "domain": false,
                "grid": true,
                "gridColor": "#d3d3d3",
                "gridWidth": 2,
                "labelOverlap": false,
                "labelFont": "DejaVu Sans Mono",
                "labelFontSize": 23,
                "labelFontWeight": "bold",
                "labelColor": "black",
                "labelPadding": 16,
                "titleFont": "DejaVu Sans Mono",
                "titleFontSize": 26,
                "titleFontWeight": "bold",
                "titleColor": "black",
                "titleAnchor": "start",
                "titleLineHeight": 33,
                "titlePadding": 10
              }
            }
          }
        },
        {
          "data": {"name": "estimated"},
          "mark": {"type": "line"},
          "encoding": {
            "y": {"field": "discharge", "type": "quantitative"},
            "detail": {"field": "seg", "type": "nominal"}
          }
        }
      ]
    }
  ]
}
